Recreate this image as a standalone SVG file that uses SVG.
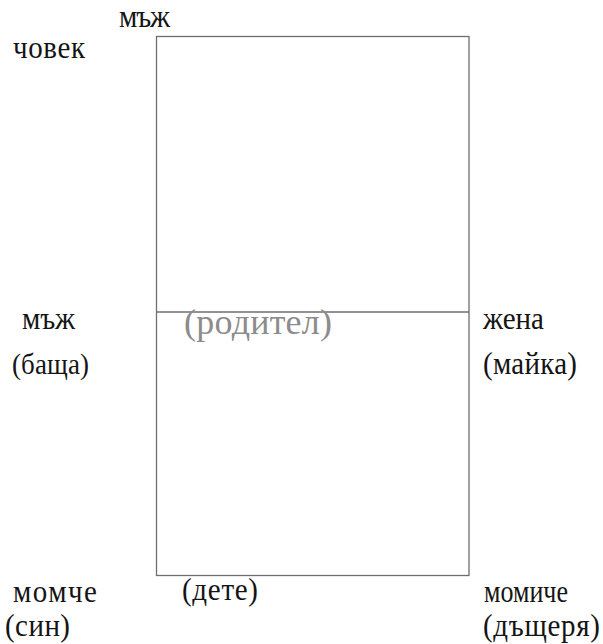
<svg xmlns="http://www.w3.org/2000/svg" width="603" height="644" viewBox="0 0 603 644">
<style>
text{font-family:"Liberation Serif","Times New Roman",serif;font-size:29px;fill:#141414}
.g{fill:#8c8c8c}
.box{fill:none;stroke:#6e6e6e;stroke-width:1.3}
</style>
<rect width="603" height="644" fill="#fff"/>
<g id="connectors">
<rect class="box" x="156.5" y="36.5" width="312.5" height="539"/>
<line class="box" x1="156.5" y1="312" x2="469" y2="312"/>
</g>
<g id="top"><text transform="translate(119,27) scale(1,1.1)" textLength="51" lengthAdjust="spacing">мъж</text></g>
<g id="chovek"><text transform="translate(13,58) scale(1,1.1)" textLength="72" lengthAdjust="spacing">човек</text></g>
<g id="bashta"><text transform="translate(22,329) scale(1,1.1)" textLength="53" lengthAdjust="spacing">мъж</text><text style="font-size:27px" transform="translate(12,374) scale(1,1.12)" textLength="77" lengthAdjust="spacing">(баща)</text></g>
<g id="roditel"><text class="g" style="font-size:36px" transform="translate(184,334)" textLength="148" lengthAdjust="spacing">(родител)</text></g>
<g id="mayka"><text transform="translate(483,329) scale(1,1.1)" textLength="61" lengthAdjust="spacing">жена</text><text transform="translate(483,374) scale(1,1.1)" textLength="94" lengthAdjust="spacing">(майка)</text></g>
<g id="sin"><text transform="translate(13,602) scale(1,1.1)" textLength="84" lengthAdjust="spacing">момче</text><text transform="translate(5,636) scale(1,1.1)" textLength="65" lengthAdjust="spacing">(син)</text></g>
<g id="dete"><text transform="translate(182,600) scale(1,1.1)" textLength="76" lengthAdjust="spacing">(дете)</text></g>
<g id="dashterya"><text style="font-size:26px" transform="translate(484,602) scale(1,1.18)" textLength="84" lengthAdjust="spacing">момиче</text><text transform="translate(483,636) scale(1,1.1)" textLength="117" lengthAdjust="spacing">(дъщеря)</text></g>
</svg>
